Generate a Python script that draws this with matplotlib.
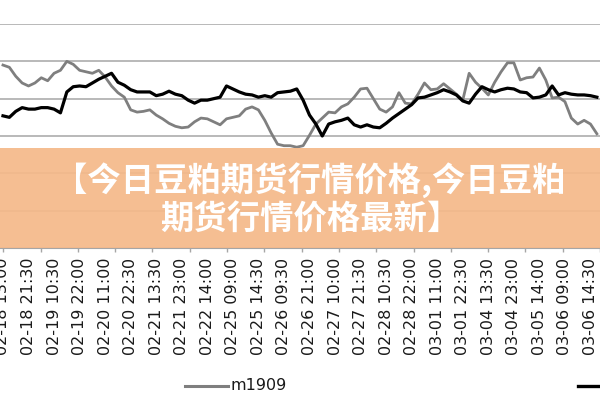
import numpy as np
import matplotlib
matplotlib.use("Agg")
import matplotlib.pyplot as plt
from matplotlib.patches import Rectangle
from matplotlib.lines import Line2D

# ---- data ----
tick_labels = ['02-18 13:00', '02-18 21:30', '02-19 10:30', '02-19 22:00', '02-20 11:00',
               '02-20 22:30', '02-21 13:30', '02-21 23:00', '02-22 14:00', '02-25 09:00',
               '02-25 14:30', '02-26 09:30', '02-26 21:00', '02-27 10:00', '02-27 21:30',
               '02-28 10:30', '02-28 22:00', '03-01 11:00', '03-01 22:30', '03-04 13:30',
               '03-04 23:00', '03-05 14:00', '03-06 09:00', '03-06 14:30']

m1909 = [2745, 2742, 2730, 2721, 2717, 2721, 2728, 2724, 2734, 2738,
         2750, 2746, 2738, 2736, 2734, 2738, 2729, 2717, 2708, 2702,
         2685, 2682, 2683, 2685, 2678, 2673, 2667, 2663, 2661, 2662,
         2669, 2674, 2673, 2669, 2665, 2673, 2675, 2677, 2686, 2689,
         2685, 2671, 2654, 2639, 2637, 2637, 2635, 2637, 2651, 2666,
         2674, 2682, 2681, 2689, 2693, 2702, 2713, 2714, 2700, 2686,
         2682, 2689, 2708, 2694, 2693, 2706, 2721, 2712, 2713, 2720,
         2713, 2706, 2698, 2734, 2722, 2714, 2705, 2722, 2736, 2748,
         2748, 2725, 2728, 2729, 2741, 2725, 2701, 2702, 2696, 2674,
         2666, 2671, 2666, 2653]

m2001 = [2677, 2675, 2683, 2688, 2686, 2686, 2688, 2688, 2686, 2681,
         2709, 2716, 2717, 2716, 2721, 2726, 2730, 2734, 2722, 2718,
         2712, 2709, 2709, 2709, 2704, 2706, 2710, 2706, 2704, 2698,
         2694, 2698, 2698, 2700, 2702, 2717, 2713, 2709, 2706, 2705,
         2702, 2704, 2702, 2708, 2709, 2710, 2713, 2698, 2678, 2666,
         2650, 2666, 2669, 2671, 2674, 2665, 2662, 2665, 2662, 2661,
         2667, 2674, 2680, 2686, 2692, 2701, 2702, 2705, 2708, 2712,
         2709, 2705, 2697, 2694, 2706, 2716, 2712, 2709, 2712, 2714,
         2713, 2709, 2708, 2701, 2702, 2705, 2717, 2705, 2708, 2706,
         2705, 2705, 2704, 2702]

series_names = ['m1909', 'm2001']
banner_lines = ['【今日豆粕期货行情价格,今日豆粕', '期货行情价格最新】']

# ---- figure ----
fig = plt.figure(figsize=(6, 4), dpi=100)
fig.patch.set_facecolor('white')
ax = fig.add_axes([0, 0.38, 1, 0.56])

x = np.arange(len(m1909))
ax.plot(x, m1909, color='#7F7F7F', lw=2.0, solid_joinstyle='round', zorder=3)
ax.plot(x, m2001, color='#000000', lw=2.3, solid_joinstyle='round', zorder=4)

ax.set_xlim(-0.466, 92.77)
ax.set_ylim(2500, 2800)
ax.set_yticks(np.arange(2500, 2801, 50))
ax.grid(axis='y', color='#A6A6A6', lw=1.1)
ax.set_axisbelow(True)
ax.tick_params(axis='y', left=False, labelleft=False)

label_pos = np.arange(0, 4 * len(tick_labels), 4)
ax.set_xticks(label_pos)
ax.set_xticklabels(tick_labels, rotation=90, fontsize=11.5, color='#1a1a1a')
ax.tick_params(axis='x', which='major', length=0, pad=7)
ax.set_xticks(np.arange(0.05, 94, 5.84), minor=True)
ax.tick_params(axis='x', which='minor', length=3, width=1, color='#A6A6A6', direction='out')

for s in ['left', 'right', 'top']:
    ax.spines[s].set_visible(False)
ax.spines['bottom'].set_color('#A6A6A6')

# ---- banner ----
fig.add_artist(Rectangle((0, 0.38), 1, 0.25, transform=fig.transFigure,
                         facecolor=(245/255, 185/255, 138/255), edgecolor='none',
                         alpha=0.93, zorder=10))
fam = ['Noto Sans CJK SC', 'DejaVu Sans']
fig.text(310/600, 1 - 180/400, banner_lines[0], ha='center', va='center', color='white',
         fontsize=24, fontweight='heavy', family=fam, zorder=11)
fig.text(310/600, 1 - 220/400, banner_lines[1], ha='center', va='center', color='white',
         fontsize=24, fontweight='heavy', family=fam, zorder=11)

# ---- legend ----
ly = 1 - 386/400
fig.add_artist(Line2D([185/600, 228/600], [ly, ly], transform=fig.transFigure,
                      color='#7F7F7F', lw=2.2))
fig.text(231/600, ly, series_names[0], va='center', ha='left', fontsize=11.5, color='#1a1a1a')
fig.add_artist(Line2D([578/600, 1.0], [ly, ly], transform=fig.transFigure,
                      color='#000000', lw=2.4))

fig.savefig('out.png', dpi=100)
